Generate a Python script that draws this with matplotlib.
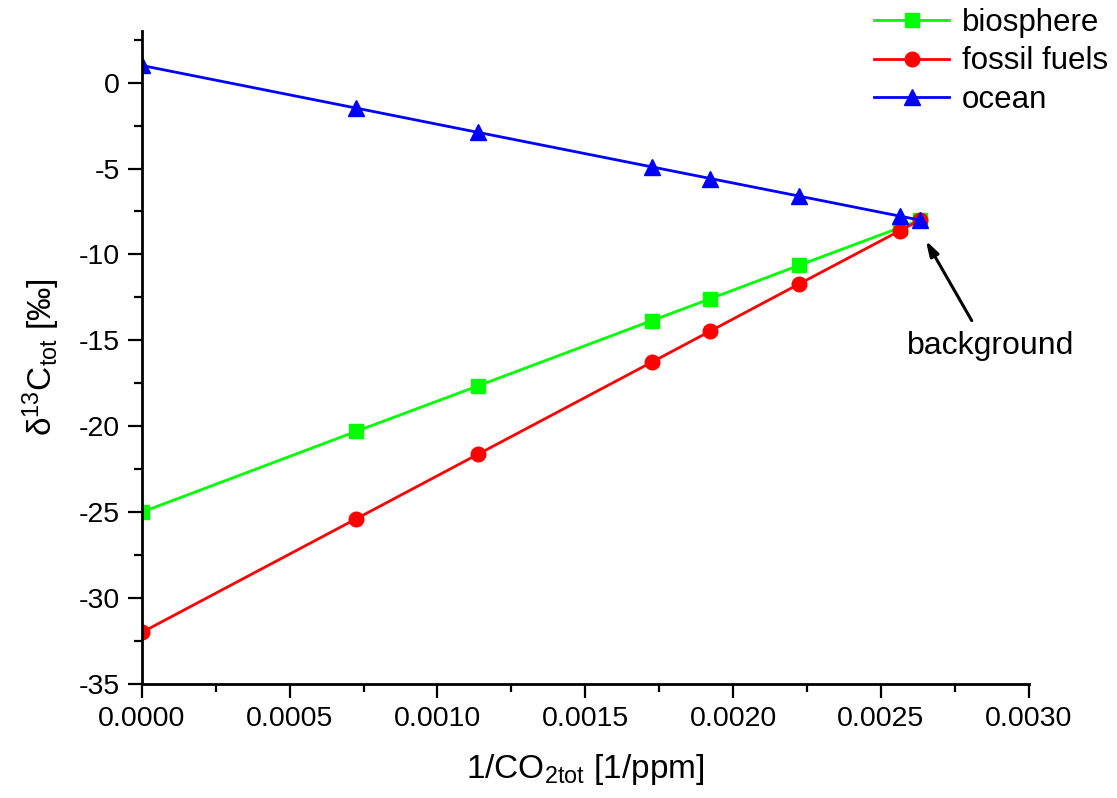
import matplotlib
matplotlib.use('Agg')
import matplotlib.pyplot as plt
from matplotlib.ticker import MultipleLocator, FormatStrFormatter

plt.rcParams['font.family'] = ['Liberation Sans', 'DejaVu Sans']
plt.rcParams['mathtext.fontset'] = 'custom'
plt.rcParams['mathtext.rm'] = 'Liberation Sans'
plt.rcParams['mathtext.it'] = 'Liberation Sans:italic'
plt.rcParams['mathtext.default'] = 'regular'
plt.rcParams['axes.unicode_minus'] = False

# mixing line data: inverse total CO2 vs. delta13C of the mixture
inv_co2 = [0.0, 0.000725, 0.001136, 0.001724, 0.001923, 0.002222, 0.002564, 0.002632]
biosphere = [-25.0, -20.3, -17.66, -13.86, -12.58, -10.64, -8.44, -8.0]
fossil_fuels = [-32.0, -25.39, -21.64, -16.28, -14.46, -11.73, -8.62, -8.0]
ocean = [1.0, -1.48, -2.89, -4.9, -5.58, -6.6, -7.77, -8.0]

background_x = 0.002632
background_y = -8.0

fig = plt.figure(figsize=(11.17, 7.98), dpi=100)
ax = fig.add_axes([0.127, 0.143, 0.794, 0.818])

lw = 2.0
ax.plot(inv_co2, biosphere, color='#00ff00', lw=lw, marker='s', ms=9.5,
        label='biosphere')
ax.plot(inv_co2, fossil_fuels, color='#ff0000', lw=lw, marker='o', ms=10.5,
        label='fossil fuels')
ax.plot(inv_co2, ocean, color='#0000ff', lw=lw, marker='^', ms=11.5,
        label='ocean')

ax.set_xlim(0, 0.003)
ax.set_ylim(-35, 3)
ax.xaxis.set_major_locator(MultipleLocator(0.0005))
ax.xaxis.set_minor_locator(MultipleLocator(0.00025))
ax.xaxis.set_major_formatter(FormatStrFormatter('%.4f'))
ax.yaxis.set_major_locator(MultipleLocator(5))
ax.yaxis.set_minor_locator(MultipleLocator(2.5))

for side in ['top', 'right']:
    ax.spines[side].set_visible(False)
for side in ['left', 'bottom']:
    ax.spines[side].set_linewidth(2.0)

ax.tick_params(which='major', direction='out', length=10, width=1.6,
               labelsize=20.5, pad=6)
ax.tick_params(which='minor', direction='out', length=6, width=1.6)

ax.set_xlabel(r'1/CO$_{2tot}$ [1/ppm]', fontsize=24, labelpad=14)
ax.set_ylabel(r'$\delta^{13}$C$_{tot}$ [‰]', fontsize=24, labelpad=12)

# arrow pointing at the background point
ax.annotate('', xy=(background_x + 0.00002, background_y - 1.2),
            xytext=(background_x + 0.000175, background_y - 5.85),
            arrowprops=dict(arrowstyle='-|>,head_length=0.9,head_width=0.28',
                            color='black', lw=2.2, shrinkA=0, shrinkB=0))
ax.text(background_x + 0.00024, background_y - 7.35, 'background',
        fontsize=23, ha='center', va='center')

fig.legend(loc='upper right', bbox_to_anchor=(1.003, 1.006), frameon=False,
           fontsize=22.5, handlelength=2.4, handletextpad=0.4,
           labelspacing=0.28, borderaxespad=0.0)

fig.savefig('out.png', dpi=100, facecolor='white')
